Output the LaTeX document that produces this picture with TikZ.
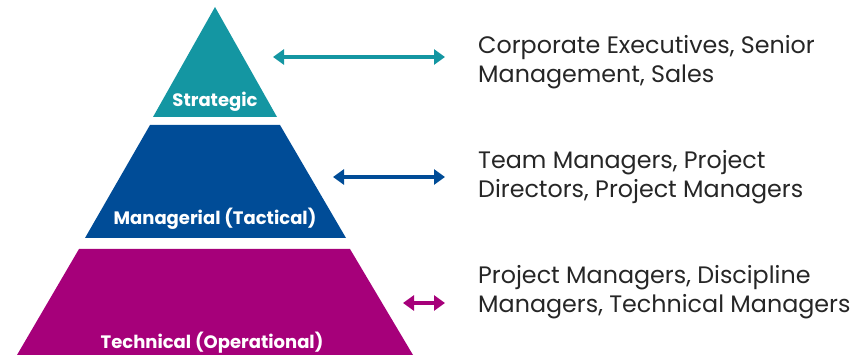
\documentclass[tikz,border=0pt]{standalone}
\usepackage{fontspec}
\setmainfont{Poppins}
\usepackage{tikz}
\usetikzlibrary{positioning,arrows.meta}
\definecolor{stratTeal}{RGB}{20, 150, 162}
\definecolor{manBlue}{RGB}{0, 76, 151}
\definecolor{techMagenta}{RGB}{166, 0, 122}
\definecolor{roleGray}{RGB}{38, 38, 38}

\begin{document}
\begin{tikzpicture}
  [
    x=1pt, y=-1pt,
    Label/.style={text=white, inner sep=0pt, anchor=base, font=\bfseries\fontsize{18}{21}\selectfont},
    Role/.style={text=roleGray, inner sep=0pt, anchor=west, align=left, font=\fontsize{23.8}{29}\selectfont},
    Link/.style={<->, draw, line width=3.5pt, >={Triangle[length=11pt, width=15pt]}}
  ]
  \useasboundingbox (0, 0) rectangle (856, 355);

  % Tiers
  \fill[stratTeal] (215, 7) -- (277, 117) -- (153, 117) -- cycle;
  \fill[manBlue] (150, 125) -- (280, 125) -- (346, 238) -- (85, 238) -- cycle;
  \fill[techMagenta] (79, 249) -- (350, 249) -- (413, 355) -- (17, 355) -- cycle;

  % Nodes
  \node[Label] (v1) at(215, 107) {Strategic};
  \node[Label] (v2) at(215, 225) {Managerial (Tactical)};
  \node[Label] (v3) at(212, 348) {Technical (Operational)};

  \node[Role] (r1) at(478, 62) {Corporate Executives, Senior\\Management, Sales};
  \node[Role] (r2) at(478, 177) {Team Managers, Project\\Directors, Project Managers};
  \node[Role] (r3) at(478, 292) {Project Managers, Discipline\\Managers, Technical Managers};

  \coordinate (a1) at(273, 57);
  \coordinate (b1) at(445, 57);
  \coordinate (a2) at(333, 177);
  \coordinate (b2) at(445, 177);
  \coordinate (a3) at(403, 303);
  \coordinate (b3) at(445, 303);

  % Lines
  \path [Link, draw=stratTeal] (a1) -- (b1);
  \path [Link, draw=manBlue] (a2) -- (b2);
  \path [Link, draw=techMagenta] (a3) -- (b3);

\end{tikzpicture}
\end{document}
